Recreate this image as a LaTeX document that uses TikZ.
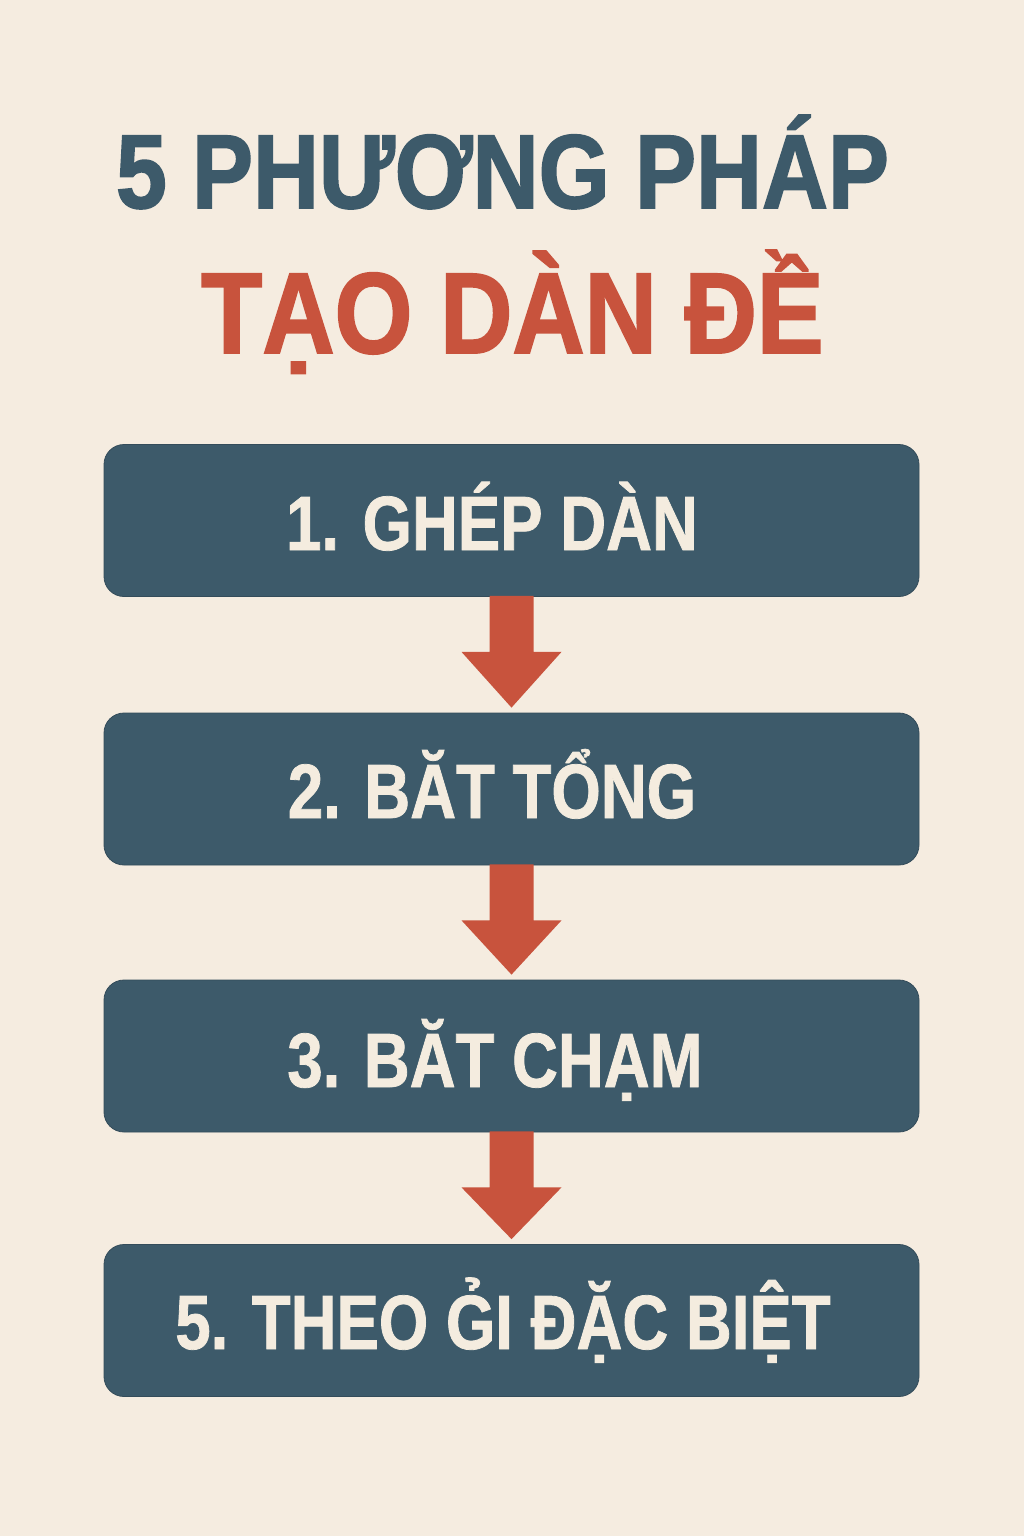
\documentclass[tikz,border=0pt]{standalone}
\usepackage{fontspec}
\setmainfont{Liberation Sans}
\newfontfamily\titlefont[FakeStretch=0.87,FakeBold=1.6]{Liberation Sans}
\newfontfamily\boxfont[FakeStretch=0.825,FakeBold=1.0]{Liberation Sans}
\usetikzlibrary{calc}
\definecolor{bgcream}{HTML}{F5ECE0}
\definecolor{slateblue}{HTML}{3D5A6A}
\definecolor{rustred}{HTML}{C8533D}
\definecolor{creamtext}{HTML}{F4ECDF}
\tikzset{
  stepbox/.style={draw=slateblue!85!black, line width=0.8pt, fill=slateblue, rounded corners=20pt,
    minimum width=815pt, minimum height=152pt, inner sep=0pt},
  boxtext/.style={anchor=base, text=creamtext, inner sep=0pt,
    font=\boxfont\bfseries\fontsize{77}{77}\selectfont},
  titleblue/.style={anchor=base, text=slateblue, inner sep=0pt,
    font=\titlefont\bfseries\fontsize{105}{105}\selectfont},
  titlered/.style={anchor=base, text=rustred, inner sep=0pt,
    font=\titlefont\bfseries\fontsize{115}{115}\selectfont},
  flowarrow/.style={fill=rustred}
}
\begin{document}
\begin{tikzpicture}[x=1pt,y=-1pt]
\fill[bgcream] (0,0) rectangle (1024,1536);
\useasboundingbox (0,0) rectangle (1024,1536);

\node[titleblue] (title1) at (502.5,208) {5 PHƯƠNG PHÁP};
\node[titlered] (title2) at (512.5,353) {TẠO DÀN ĐỀ};

\node[stepbox] (b1) at (511.5,520.5) {};
\node[stepbox] (b2) at (511.5,789) {};
\node[stepbox] (b3) at (511.5,1056) {};
\node[stepbox] (b4) at (511.5,1320.5) {};

\node[boxtext] (t1) at (492,550) {1. GHÉP DÀN};
\node[boxtext] (t2) at (492,818) {2. BĂT TỔNG};
\node[boxtext] (t3) at (495,1087) {3. BĂT CHẠM};
\node[boxtext] (t4) at (503,1349) {5. THEO G̉I ĐẶC BIỆT};

\foreach \a/\b in {b1/b2,b2/b3,b3/b4}{
  \fill[flowarrow] ($(\a.south)+(-22,-1)$) -- ($(\a.south)+(-22,55)$) -- ($(\a.south)+(-50,55)$)
    -- ($(\b.north)+(0,-5)$) -- ($(\a.south)+(50,55)$) -- ($(\a.south)+(22,55)$)
    -- ($(\a.south)+(22,-1)$) -- cycle;
}
\end{tikzpicture}
\end{document}
